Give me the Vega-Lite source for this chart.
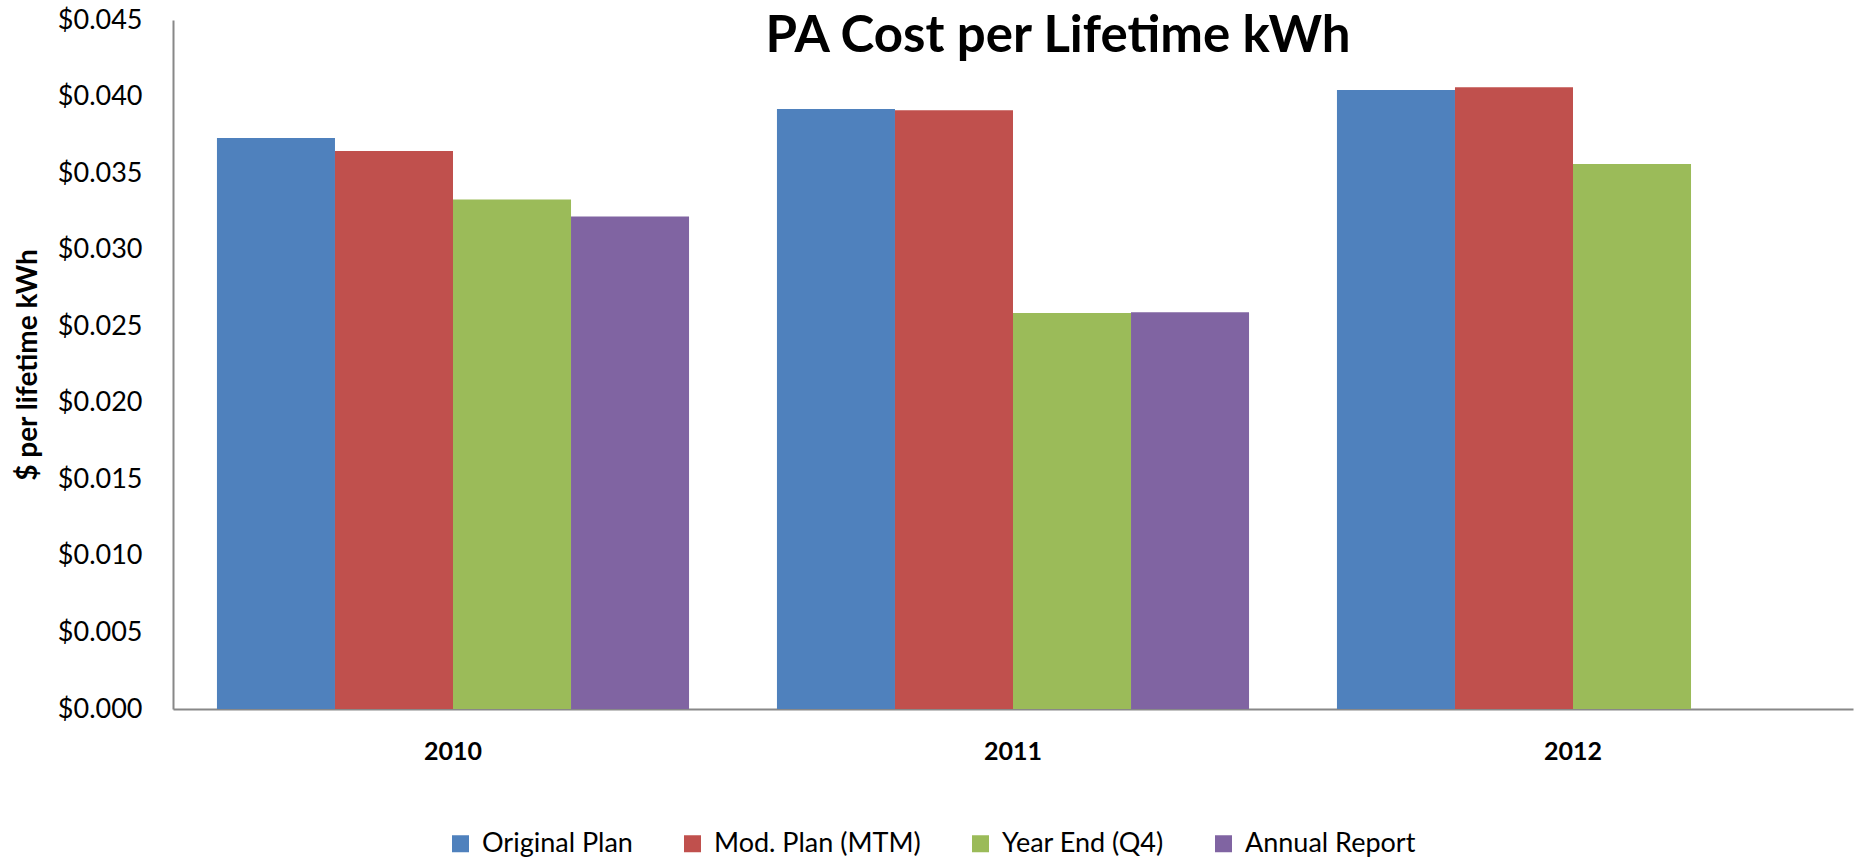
{
  "$schema": "https://vega.github.io/schema/vega-lite/v6.json",
  "width": 1680,
  "height": 689,
  "autosize": {"type": "none"},
  "padding": {"left": 173, "top": 20, "right": 7, "bottom": 150},
  "background": "white",
  "title": {
    "text": "PA Cost per Lifetime kWh",
    "font": "Lato",
    "fontSize": 51,
    "fontWeight": "bold",
    "color": "#000000",
    "anchor": "middle",
    "frame": "group",
    "baseline": "alphabetic",
    "dx": 45,
    "dy": 50,
    "offset": -47
  },
  "data": {
    "values": [
      {"year": "2010", "series": "Original Plan", "value": 0.03729},
      {"year": "2010", "series": "Mod. Plan (MTM)", "value": 0.03644},
      {"year": "2010", "series": "Year End (Q4)", "value": 0.03328},
      {"year": "2010", "series": "Annual Report", "value": 0.03217},
      {"year": "2011", "series": "Original Plan", "value": 0.03918},
      {"year": "2011", "series": "Mod. Plan (MTM)", "value": 0.0391},
      {"year": "2011", "series": "Year End (Q4)", "value": 0.02587},
      {"year": "2011", "series": "Annual Report", "value": 0.02592},
      {"year": "2012", "series": "Original Plan", "value": 0.04042},
      {"year": "2012", "series": "Mod. Plan (MTM)", "value": 0.0406},
      {"year": "2012", "series": "Year End (Q4)", "value": 0.03559}
    ]
  },
  "mark": {"type": "bar"},
  "encoding": {
    "x": {
      "field": "year",
      "type": "nominal",
      "scale": {"paddingInner": 0.157, "paddingOuter": 0.0785},
      "axis": {
        "title": null,
        "labelAngle": 0,
        "labelFont": "Lato",
        "labelFontSize": 25,
        "labelFontWeight": "bold",
        "labelColor": "#000000",
        "labelBaseline": "top",
        "labelPadding": 30,
        "ticks": false,
        "domainColor": "#888888",
        "domainWidth": 2
      }
    },
    "xOffset": {
      "field": "series",
      "type": "nominal",
      "sort": ["Original Plan", "Mod. Plan (MTM)", "Year End (Q4)", "Annual Report"],
      "scale": {"domain": ["Original Plan", "Mod. Plan (MTM)", "Year End (Q4)", "Annual Report"], "paddingInner": 0, "paddingOuter": 0}
    },
    "y": {
      "field": "value",
      "type": "quantitative",
      "scale": {"domain": [0, 0.045], "nice": false, "zero": true},
      "axis": {
        "title": "$ per lifetime kWh",
        "titleFont": "Lato",
        "titleFontSize": 28,
        "titleFontWeight": "bold",
        "titleColor": "#000000",
        "titleAngle": -90,
        "titleX": -145,
        "titleY": 344.5,
        "titleAlign": "center",
        "titleBaseline": "middle",
        "values": [0, 0.005, 0.01, 0.015, 0.02, 0.025, 0.03, 0.035, 0.04, 0.045],
        "format": "$.3f",
        "grid": false,
        "ticks": false,
        "labelFont": "Lato",
        "labelFontSize": 27,
        "labelColor": "#000000",
        "labelPadding": 31,
        "domainColor": "#888888",
        "domainWidth": 2
      }
    },
    "color": {
      "field": "series",
      "type": "nominal",
      "sort": ["Original Plan", "Mod. Plan (MTM)", "Year End (Q4)", "Annual Report"],
      "scale": {
        "domain": ["Original Plan", "Mod. Plan (MTM)", "Year End (Q4)", "Annual Report"],
        "range": ["#4F81BD", "#C0504D", "#9BBB59", "#8064A2"]
      },
      "legend": {
        "title": null,
        "orient": "none",
        "legendX": 274,
        "legendY": 810,
        "direction": "horizontal",
        "columns": 4,
        "columnPadding": 46,
        "symbolType": "square",
        "symbolSize": 289,
        "symbolStrokeWidth": 0,
        "labelFont": "Lato",
        "labelFontSize": 27,
        "labelLimit": 0,
        "labelColor": "#000000",
        "labelOffset": 8
      }
    }
  },
  "config": {"view": {"stroke": null}}
}
